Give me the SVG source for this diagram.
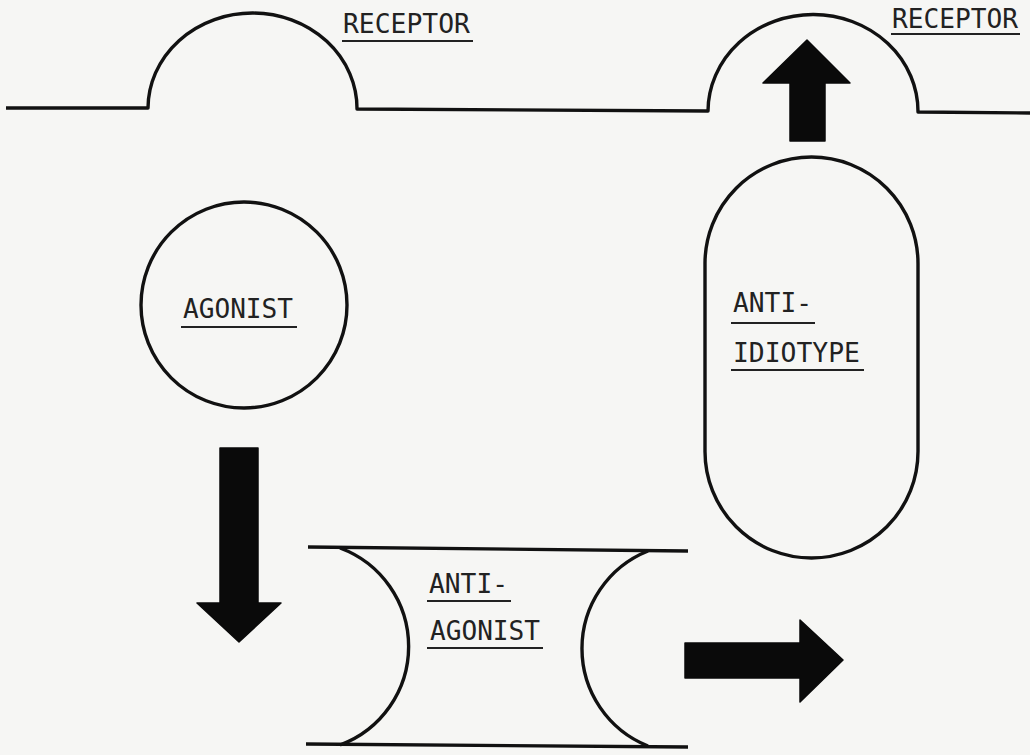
<svg xmlns="http://www.w3.org/2000/svg" width="1030" height="755" viewBox="0 0 1030 755">
<style>
.ln{fill:none;stroke:#111;stroke-width:3.4;stroke-linejoin:round}
.ul{stroke:#222;stroke-width:2}
.t{font-family:"DejaVu Sans Mono","Liberation Mono",monospace;font-size:26px;fill:#222}
.ar{fill:#0a0a0a;stroke:#0a0a0a;stroke-width:1.5;stroke-linejoin:round}
</style>
<rect width="1030" height="755" fill="#f6f6f4"/>
<g id="membrane">
<path class="ln" d="M6,108 L148,108 A104,95 0 0 1 357,109 L708,111 A105,97 0 0 1 918,112 L1030,113"/>
</g>
<g id="receptor1">
<text class="t" x="343" y="33" textLength="127" lengthAdjust="spacingAndGlyphs">RECEPTOR</text>
<line class="ul" x1="342" y1="41" x2="473" y2="41"/>
</g>
<g id="receptor2">
<text class="t" x="892" y="28" textLength="126" lengthAdjust="spacingAndGlyphs">RECEPTOR</text>
<line class="ul" x1="891" y1="34" x2="1020" y2="34"/>
</g>
<g id="agonist">
<circle class="ln" cx="244" cy="305" r="103"/>
<text class="t" x="183" y="318" textLength="110" lengthAdjust="spacingAndGlyphs">AGONIST</text>
<line class="ul" x1="181" y1="327" x2="297" y2="327"/>
</g>
<g id="anti-idiotype">
<rect class="ln" x="705" y="157" width="213" height="401" rx="106.5" ry="106.5"/>
<text class="t" x="733" y="312" textLength="79" lengthAdjust="spacingAndGlyphs">ANTI-</text>
<line class="ul" x1="731" y1="323" x2="815" y2="323"/>
<text class="t" x="733" y="362" textLength="127" lengthAdjust="spacingAndGlyphs">IDIOTYPE</text>
<line class="ul" x1="731" y1="370" x2="864" y2="370"/>
</g>
<g id="anti-agonist">
<path class="ln" d="M308,547 L688,551"/>
<path class="ln" d="M306,744 L688,747"/>
<path class="ln" d="M340,548 A105,105 0 0 1 340,745"/>
<path class="ln" d="M648,551 A105,105 0 0 0 648,746"/>
<text class="t" x="429" y="593" textLength="79" lengthAdjust="spacingAndGlyphs">ANTI-</text>
<line class="ul" x1="427" y1="601" x2="511" y2="601"/>
<text class="t" x="430" y="640" textLength="110" lengthAdjust="spacingAndGlyphs">AGONIST</text>
<line class="ul" x1="427" y1="648" x2="543" y2="648"/>
</g>
<g id="connectors">
<polygon class="ar" points="790,141 825,141 825,83 850,83 807,40 763,83 790,83"/>
<polygon class="ar" points="220,448 258,448 258,603 281,603 239,642 197,603 220,603"/>
<polygon class="ar" points="685,643 800,643 800,620 843,660 800,702 800,678 685,678"/>
</g>
</svg>
